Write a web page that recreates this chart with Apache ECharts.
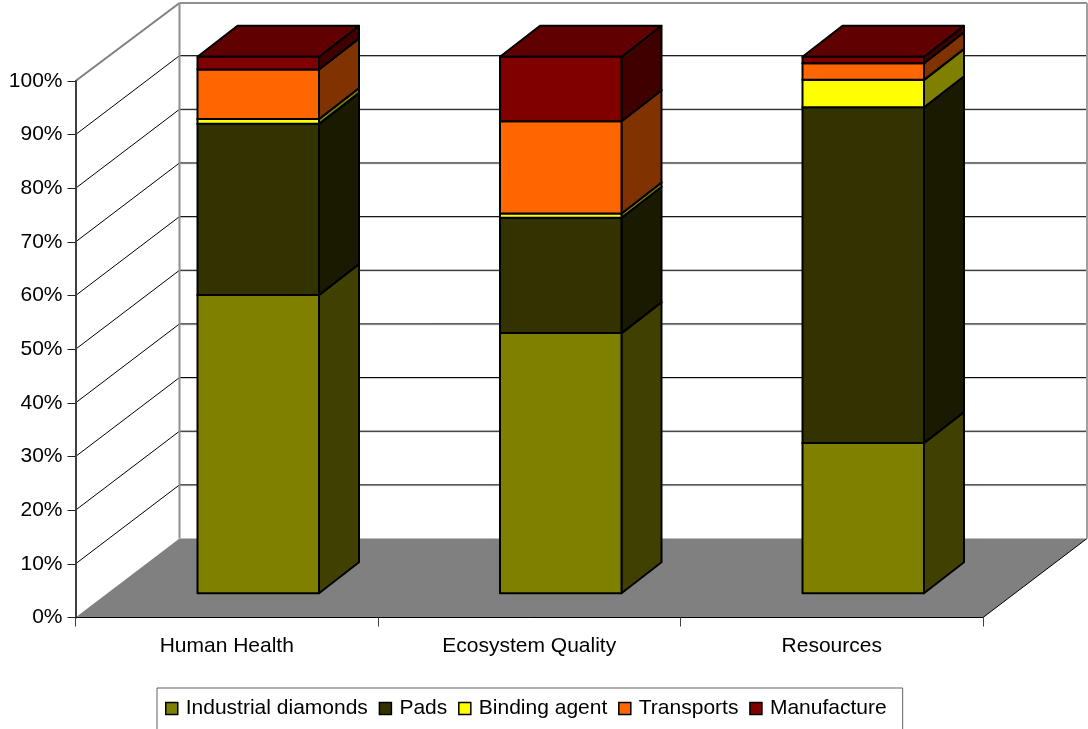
<!DOCTYPE html>
<html>
<head>
<meta charset="utf-8">
<style>
html,body{margin:0;padding:0;background:#fff;overflow:hidden}
#chart{width:1088px;height:729px}
</style>
<script src="https://cdn.jsdelivr.net/npm/echarts@6/dist/echarts.min.js"></script>
</head>
<body>
<div id="chart"></div>
<script>
// Impact shares per category, in percent of the stacked total.
const categories = ['Human Health', 'Ecosystem Quality', 'Resources'];
const industrialDiamonds = [55.6, 48.5, 28.0];
const pads = [31.9, 21.5, 62.6];
const bindingAgent = [0.9, 0.8, 5.1];
const transports = [9.25, 17.2, 3.1];
const manufacture = [2.35, 12.0, 1.2];

const components = [
  { name: 'Industrial diamonds', values: industrialDiamonds, front: '#808000', side: '#404000', top: '#606000' },
  { name: 'Pads', values: pads, front: '#333300', side: '#1a1a00', top: '#262600' },
  { name: 'Binding agent', values: bindingAgent, front: '#ffff00', side: '#808000', top: '#bfbf00' },
  { name: 'Transports', values: transports, front: '#ff6600', side: '#803300', top: '#bf4d00' },
  { name: 'Manufacture', values: manufacture, front: '#800000', side: '#400000', top: '#600000' }
];

// Oblique projection: how far the back wall sits from the front plane.
const WALL_DX = 104, WALL_DY = 79;
// Columns stand partway into the floor and have their own shallower depth.
const BAR_SHIFT_X = 31.5, BAR_SHIFT_Y = 24.2, BAR_DX = 40, BAR_DY = 31, BAR_WIDTH = 121.5;
const FONT = '"Liberation Sans", Arial, sans-serif';
const FONT_SIZE = 21;
const yTicks = [0, 10, 20, 30, 40, 50, 60, 70, 80, 90, 100];

function poly(points, fill, stroke, lineWidth) {
  return {
    type: 'polygon',
    shape: { points },
    style: { fill, stroke: stroke || null, lineWidth: lineWidth || 0, lineJoin: 'round' }
  };
}
function seg(x1, y1, x2, y2, stroke, lineWidth) {
  return { type: 'line', shape: { x1, y1, x2, y2 }, style: { stroke, lineWidth } };
}

// Walls, floor and the gridlines wrapped around them.
function renderRoom(params, api) {
  const cs = params.coordSys;
  const xL = cs.x, xR = cs.x + cs.width;
  const y0 = api.coord([0, 0])[1];
  const y100 = api.coord([0, 100])[1];
  const yBack = y100 - WALL_DY + 1;
  const children = [];
  children.push(poly([[xL, y100], [xL + WALL_DX, yBack], [xL + WALL_DX, y0 - WALL_DY], [xL, y0]], '#ffffff'));
  yTicks.forEach(function (t) {
    if (t === 0 || t === 100) return;
    const y = api.coord([0, t])[1];
    children.push(seg(xL + WALL_DX, y - WALL_DY + 0.9, xR + WALL_DX, y - WALL_DY + 0.9, '#d0d0d0', 1));
    children.push(seg(xL + WALL_DX, y - WALL_DY, xR + WALL_DX, y - WALL_DY, '#000000', 1));
    children.push(seg(xL, y, xL + WALL_DX, y - WALL_DY, '#000000', 1));
  });
  children.push(poly([[xL, y0], [xR, y0], [xR + WALL_DX, y0 - WALL_DY], [xL + WALL_DX, y0 - WALL_DY]], '#808080'));
  children.push(seg(xR, y0, xR + WALL_DX, y0 - WALL_DY, '#000000', 1));
  children.push(seg(xL, y100, xL + WALL_DX, yBack, '#808080', 2));
  children.push(seg(xL + WALL_DX, yBack, xR + WALL_DX, yBack, '#909090', 2));
  children.push(seg(xL + WALL_DX, yBack, xL + WALL_DX, y0 - WALL_DY, '#909090', 2));
  children.push(seg(xR + WALL_DX, yBack, xR + WALL_DX, y0 - WALL_DY, '#a0a0a0', 2));
  return { type: 'group', children };
}

// One stacked block of a column: front, right side and top faces.
function blockRenderer(comp) {
  return function (params, api) {
    const cat = api.value(0);
    const lo = api.coord([cat, api.value(1)]);
    const hi = api.coord([cat, api.value(2)]);
    const xa = lo[0] + BAR_SHIFT_X - BAR_WIDTH / 2;
    const xb = xa + BAR_WIDTH;
    const yb = lo[1] - BAR_SHIFT_Y;
    const yt = hi[1] - BAR_SHIFT_Y;
    const lw = 2;
    return {
      type: 'group',
      children: [
        poly([[xb, yb], [xb + BAR_DX, yb - BAR_DY], [xb + BAR_DX, yt - BAR_DY], [xb, yt]], comp.side, '#000', lw),
        poly([[xa, yt], [xb, yt], [xb + BAR_DX, yt - BAR_DY], [xa + BAR_DX, yt - BAR_DY]], comp.top, '#000', lw),
        poly([[xa, yb], [xb, yb], [xb, yt], [xa, yt]], comp.front, '#000', lw)
      ]
    };
  };
}

const blockSeries = components.map(function (comp, i) {
  const data = categories.map(function (_, c) {
    let start = 0;
    for (let k = 0; k < i; k++) start += components[k].values[c];
    return [c, start, start + comp.values[c]];
  });
  return {
    name: comp.name,
    type: 'custom',
    coordinateSystem: 'cartesian2d',
    z: 2 + i * 0.01,
    silent: true,
    itemStyle: { color: comp.front },
    encode: { x: 0, y: [1, 2] },
    renderItem: blockRenderer(comp),
    data
  };
});

const chart = echarts.init(document.getElementById('chart'), null, { renderer: 'canvas' });
chart.setOption({
  animation: false,
  backgroundColor: '#ffffff',
  textStyle: { fontFamily: FONT },
  grid: { left: 75.5, right: 105, top: 81, bottom: 111.5 },
  xAxis: {
    type: 'category',
    data: categories,
    z: 3,
    boundaryGap: true,
    axisLine: { show: true, lineStyle: { color: '#000000', width: 1 } },
    axisTick: { show: true, length: 9, lineStyle: { color: '#404040', width: 1 } },
    axisLabel: { show: true, color: '#000000', fontFamily: FONT, fontSize: FONT_SIZE, margin: 18, interval: 0 },
    splitLine: { show: false }
  },
  yAxis: {
    type: 'value',
    min: 0,
    max: 100,
    interval: 10,
    z: 3,
    axisLine: { show: true, lineStyle: { color: '#404040', width: 2 } },
    axisTick: { show: true, length: 8, lineStyle: { color: '#202020', width: 1 } },
    axisLabel: { show: true, color: '#000000', fontFamily: FONT, fontSize: FONT_SIZE, margin: 13, formatter: '{value}%' },
    splitLine: { show: false }
  },
  legend: {
    show: true,
    left: 157,
    top: 688,
    orient: 'horizontal',
    data: components.map(function (c) { return c.name; }),
    icon: 'rect',
    itemWidth: 12,
    itemHeight: 12,
    itemGap: 10.8,
    padding: [10, 16, 30, 8],
    borderColor: '#606060',
    borderWidth: 1,
    backgroundColor: '#ffffff',
    itemStyle: { borderColor: '#000000', borderWidth: 1.5 },
    textStyle: { color: '#000000', fontFamily: FONT, fontSize: FONT_SIZE, padding: [0, 0, 0, 3] }
  },
  series: [{
    name: 'room',
    type: 'custom',
    coordinateSystem: 'cartesian2d',
    z: 1,
    silent: true,
    renderItem: renderRoom,
    encode: { x: 0, y: 1 },
    data: [[0, 0]]
  }].concat(blockSeries)
});
</script>
</body>
</html>
